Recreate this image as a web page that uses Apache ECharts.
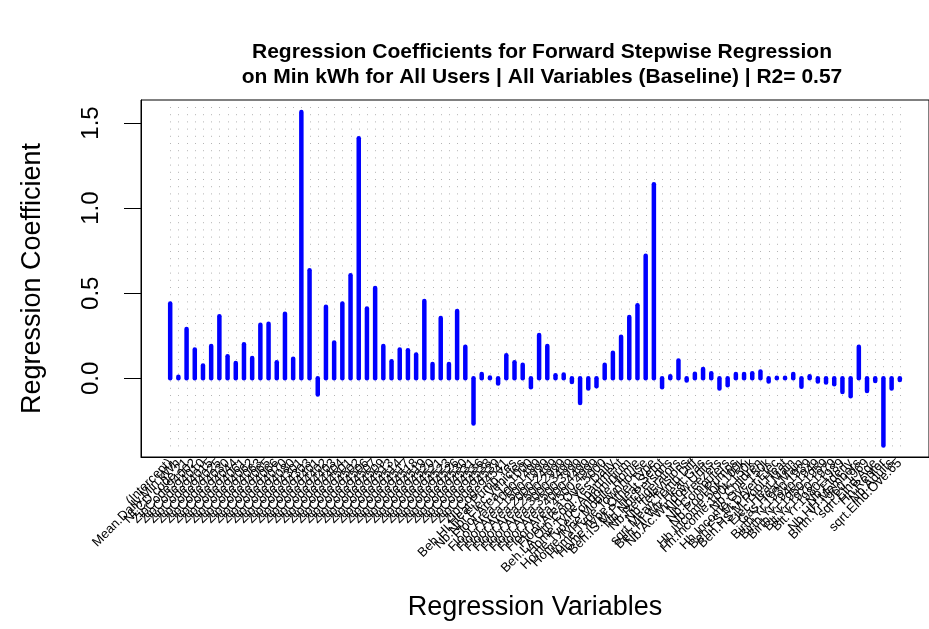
<!DOCTYPE html>
<html>
<head>
<meta charset="utf-8">
<script src="https://cdn.jsdelivr.net/npm/echarts@6/dist/echarts.min.js"></script>
<style>
html,body{margin:0;padding:0;background:#fff;}
#chart{width:929px;height:629px;}
</style>
</head>
<body>
<div id="chart"></div>
<script>
// Category labels (regression variables)
const variables = [
"(Intercept)","Mean.Daily.Min.kWh","NLCD.code.21",
"ZipCode94002","ZipCode94010","ZipCode94015","ZipCode94025","ZipCode94030","ZipCode94044","ZipCode94061","ZipCode94062","ZipCode94063","ZipCode94065",
"ZipCode94066","ZipCode94070","ZipCode94080","ZipCode94301","ZipCode94303","ZipCode94401","ZipCode94402","ZipCode94403","ZipCode94404","ZipCode94501",
"ZipCode94502","ZipCode94506","ZipCode94507","ZipCode94509","ZipCode94513","ZipCode94514","ZipCode94517","ZipCode94518","ZipCode94519","ZipCode94520",
"ZipCode94521","ZipCode94523","ZipCode94526","ZipCode94530","ZipCode94531","ZipCode94536","ZipCode94538","ZipCode94539","ZipCode94541",
"Beh.HI.Heat.Pump.Yes","Nb.Nbr.Elec.Vehicles","Floor.Area.Lt.1000","Floor.Area.1000.1499","Floor.Area.1500.1999","Floor.Area.2000.2499",
"Floor.Area.2500.2999","Floor.Area.3000.3499","Floor.Area.3500.3999","Floor.Area.4000.4499","Floor.Area.4500.4999","Floor.Area.Ove.5000",
"Beh.LA.Oth.Cool.Yes.Daily","Home.Type.Apartment","Home.Type.Condominium","Home.Type.Mobile.Home","Home.Type.Townhouse","Home.Type.Other.Type",
"Beh.IS.M.P.Heat.Setpt","Nb.Nbr.Persons","Nb.Refrigerators","Nb.Televisions","sqrt.Mean.Temp.Diff","Beh.HI.Wtr.Heat.Gas",
"Nb.Ac.Window.Units","Nb.Freezers","Nb.Computers","Nb.Pool.Pumps","Hh.Income.50k.100k","Hh.Income.100k.150k",
"Nb.Children","Hh.Income.Ove.150k","Beh.FS.M.Dryer.Elec","Beh.HS.M.Pool.Heat","Elec.Heat.Main","Gas.Heat.Main",
"Birth.Yr.1930.1939","Birth.Yr.1940.1949","Birth.Yr.1950.1959","Blt.Yr.1970.1979","Blt.Yr.1980.1989","Nb.Elderly",
"Nb.HH.Members","Birth.Yr.1960.1969","sqrt.Elhd.Age","Hh.Renter","Nb.Adults","sqrt.Elhd.Ove.65"
];

// Regression coefficients
const coefficients = [
0.44,0.01,0.29,0.17,0.075,0.19,0.365,0.13,0.09,0.2,
0.12,0.315,0.32,0.095,0.38,0.115,1.565,0.635,-0.095,0.42,
0.21,0.44,0.605,1.41,0.41,0.53,0.19,0.1,0.17,0.165,
0.14,0.455,0.085,0.355,0.085,0.395,0.185,-0.265,0.025,0.005,
-0.03,0.135,0.095,0.08,-0.053,0.255,0.19,0.018,0.022,-0.022,
-0.145,-0.06,-0.047,0.08,0.15,0.245,0.36,0.43,0.72,1.14,
-0.053,0.012,0.105,-0.012,0.027,0.055,0.03,-0.06,-0.04,0.025,
0.025,0.03,0.04,-0.018,0.003,0.003,0.025,-0.05,0.013,-0.018,
-0.025,-0.035,-0.08,-0.105,0.185,-0.075,-0.015,-0.395,-0.06,-0.01
];

// Y-axis tick labels
const yTicks = [0.0, 0.5, 1.0, 1.5];

const titleLines = [
  "Regression Coefficients for Forward Stepwise Regression",
  "on Min kWh for All Users | All Variables (Baseline) | R2= 0.57"
];

const FONT = "'Liberation Sans', Arial, Helvetica, sans-serif";
const positions = variables.map((_, i) => i + 1);
// empty guard positions at both ends so no real label is treated as min/max label
const labelPositions = [0].concat(positions, [positions.length + 1]);
const YMIN = -0.462, YMAX = 1.635;

const chart = echarts.init(document.getElementById('chart'), null, {renderer: 'canvas'});

const option = {
  animation: false,
  backgroundColor: '#ffffff',
  title: {
    text: titleLines.join('\n'),
    left: 537,
    top: 35,
    textAlign: 'center',
    textStyle: {fontFamily: FONT, fontSize: 21, fontWeight: 'bold', color: '#000', lineHeight: 25}
  },
  grid: {left: 141, top: 100, width: 792, height: 357, show: true, borderColor: '#000', borderWidth: 1, backgroundColor: 'transparent'},
  xAxis: {
    type: 'value', min: -2.56, max: 93.56,
    name: 'Regression Variables', nameLocation: 'middle', nameGap: 137,
    nameTextStyle: {fontFamily: FONT, fontSize: 27, color: '#000'},
    axisLine: {show: true, onZero: false, lineStyle: {color: '#000'}}, axisTick: {show: false}, splitLine: {show: false},
    axisLabel: {
      customValues: labelPositions, rotate: 45, margin: 4, fontFamily: FONT, fontSize: 13, color: '#000',
      hideOverlap: false,
      formatter: v => variables[Math.round(v) - 1] || ''
    }
  },
  yAxis: {
    type: 'value', min: YMIN, max: YMAX,
    name: 'Regression Coefficient', nameLocation: 'middle', nameGap: 95, nameRotate: 90,
    nameTextStyle: {fontFamily: FONT, fontSize: 27, color: '#000'},
    axisLine: {show: true, onZero: false, lineStyle: {color: '#000'}}, splitLine: {show: false},
    axisTick: {show: true, inside: false, customValues: yTicks, length: 17, lineStyle: {color: '#000', width: 1}},
    axisLabel: {
      customValues: yTicks, rotate: 90, margin: 38, fontFamily: FONT, fontSize: 24, color: '#000',
      showMinLabel: true, showMaxLabel: true,
      formatter: v => Number(v).toFixed(1)
    }
  },
  series: [
    {
      type: 'custom', name: 'grid', silent: true, z: 1,
      data: positions.map(p => [p]),
      encode: {x: 0},
      renderItem: function (params, api) {
        const x = api.value(0);
        const top = api.coord([x, YMAX]);
        const bot = api.coord([x, YMIN]);
        const px = Math.round(top[0]) + 0.5;
        return {
          type: 'line',
          shape: {x1: px, y1: Math.round(top[1]) + 7, x2: px, y2: Math.round(bot[1]) - 6},
          style: {stroke: '#b4b4b4', lineWidth: 1, lineDash: [1, 6.2], fill: null}
        };
      }
    },
    {
      type: 'custom', name: 'Coefficient', z: 5,
      data: coefficients.map((v, i) => [i + 1, v]),
      encode: {x: 0, y: 1},
      renderItem: function (params, api) {
        const x = api.value(0);
        const v = api.value(1);
        const p0 = api.coord([x, 0]);
        const p1 = api.coord([x, v]);
        return {
          type: 'line',
          shape: {x1: p0[0], y1: p0[1], x2: p1[0], y2: p1[1]},
          style: {stroke: '#0000ff', lineWidth: 4.5, lineCap: 'round', fill: null}
        };
      }
    }
  ]
};
chart.setOption(option);
</script>
</body>
</html>
